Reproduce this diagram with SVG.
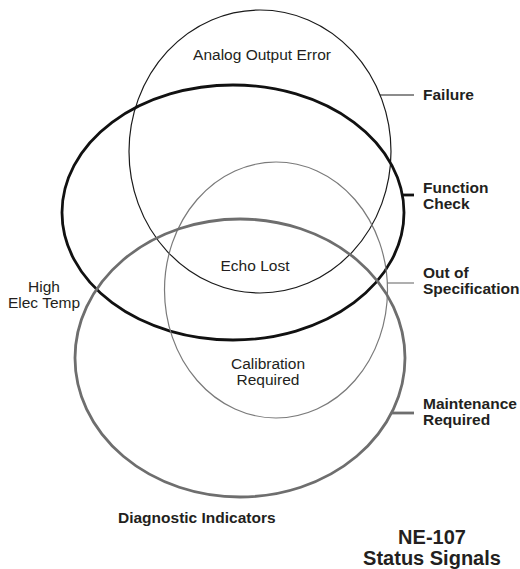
<svg xmlns="http://www.w3.org/2000/svg" width="520" height="569" viewBox="0 0 520 569">
<style>
.bg{fill:#fff}
.e{fill:none}
.fail{stroke:#1a1a1a;stroke-width:1.2}
.func{stroke:#111;stroke-width:2.8}
.spec{stroke:#7a7a7a;stroke-width:1.2}
.maint{stroke:#6e6e6e;stroke-width:2.8}
.lbl{font-family:"Liberation Sans",Arial,sans-serif;font-size:15.5px;fill:#231f20}
.b{font-weight:bold}
.mid{text-anchor:middle}
.title{font-family:"Liberation Sans",Arial,sans-serif;font-size:20px;font-weight:bold;fill:#231f20;text-anchor:middle}
</style>
<rect class="bg" width="520" height="569"/>
<g id="sets">
<g id="failure"><ellipse class="e fail" cx="260" cy="151.5" rx="131" ry="141.5"/></g>
<g id="function-check"><ellipse class="e func" cx="233" cy="212.5" rx="171" ry="127.5"/></g>
<g id="out-of-spec"><ellipse class="e spec" cx="276" cy="290" rx="111.5" ry="128"/></g>
<g id="maintenance"><ellipse class="e maint" cx="240" cy="358" rx="165" ry="139"/></g>
</g>
<g id="connectors">
<line class="fail" x1="380" y1="95" x2="414" y2="95"/>
<line class="func" x1="402" y1="195" x2="414" y2="195"/>
<line class="spec" x1="387" y1="283" x2="414" y2="283"/>
<line class="maint" x1="391" y1="413" x2="414" y2="413"/>
</g>
<g id="legend">
<text class="lbl b" x="423" y="100">Failure</text>
<text class="lbl b" x="423" y="193">Function</text>
<text class="lbl b" x="423" y="209">Check</text>
<text class="lbl b" x="423" y="278">Out of</text>
<text class="lbl b" x="423" y="294">Specification</text>
<text class="lbl b" x="423" y="409">Maintenance</text>
<text class="lbl b" x="423" y="425">Required</text>
</g>
<g id="indicators">
<text class="lbl mid" x="262" y="60">Analog Output Error</text>
<text class="lbl mid" x="255" y="271">Echo Lost</text>
<text class="lbl mid" x="268" y="369">Calibration</text>
<text class="lbl mid" x="268" y="385">Required</text>
<text class="lbl mid" x="44" y="292">High</text>
<text class="lbl mid" x="44" y="308">Elec Temp</text>
</g>
<text class="lbl b" x="118" y="523">Diagnostic Indicators</text>
<text class="title" x="432" y="544">NE-107</text>
<text class="title" x="432" y="565">Status Signals</text>
</svg>
